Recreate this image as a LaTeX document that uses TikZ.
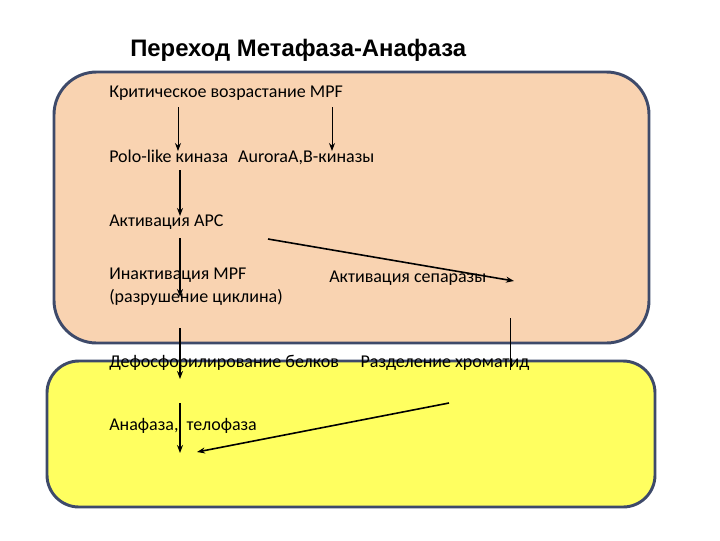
\documentclass[tikz,border=0pt]{standalone}
\usepackage{fontspec}
\setmainfont{Carlito}
\newfontfamily\titlefont{Liberation Sans}
\usetikzlibrary{arrows.meta}
\definecolor{peach}{HTML}{F9D3B1}
\definecolor{lemon}{HTML}{FFFF60}
\definecolor{edgecol}{HTML}{3E4A6A}
\tikzset{
  panel/.style={draw=edgecol, line width=2.2pt},
  lbl/.style={anchor=west, inner sep=0pt, font=\fontsize{13.5}{16}\selectfont},
  thinarr/.style={-{Stealth[length=6pt,width=4.5pt]}, line width=0.6pt},
  thickarr/.style={-{Stealth[length=6pt,width=4.5pt]}, line width=1.6pt},
  midarr/.style={-{Stealth[length=6pt,width=4.5pt]}, line width=1.2pt},
  plainline/.style={line width=0.6pt}
}
\begin{document}
\begin{tikzpicture}[x=0.75pt,y=-0.75pt]
\useasboundingbox (0,0) rectangle (720,540);
\fill[white] (0,0) rectangle (720,540);
% panels
\draw[panel, fill=peach, rounded corners=32pt] (54,72) rectangle (649,343);
\draw[panel, fill=lemon, rounded corners=24pt] (47,361) rectangle (655,507);
% title
\node[anchor=west, inner sep=0pt, font=\titlefont\bfseries\fontsize{17.9}{21}\selectfont] (title) at (130,50) {Переход Метафаза-Анафаза};
% labels
\node[lbl] (mpf) at (109,93) {Критическое возрастание MPF};
\node[lbl] (polo) at (109,157) {Polo-like киназа\hspace{0.55em}AuroraA,B-киназы};
\node[lbl] (apc) at (109,222) {Активация APC};
\node[lbl] (inact) at (109,275) {Инактивация MPF};
\node[lbl] (cycl) at (109,297) {(разрушение циклина)};
\node[lbl] (sep) at (329,278) {Активация сепаразы};
\node[lbl] (dephos) at (109,363) {Дефосфорилирование белков\hspace{1.2em}Разделение хроматид};
\node[lbl] (ana) at (109,426) {Анафаза,\hspace{0.45em}телофаза};
% connector end points
\coordinate (a1s) at (178,107); \coordinate (a1e) at (178,151);
\coordinate (a2s) at (332,107); \coordinate (a2e) at (332,151);
\coordinate (a3s) at (180,170); \coordinate (a3e) at (180,216);
\coordinate (a4s) at (180,238); \coordinate (a4e) at (180,297);
\coordinate (a5s) at (268,239); \coordinate (a5e) at (514,281);
\coordinate (a6s) at (180,328); \coordinate (a6e) at (180,379);
\coordinate (a7s) at (510,318); \coordinate (a7e) at (510,370);
\coordinate (a8s) at (180,403); \coordinate (a8e) at (180,453);
\coordinate (a9s) at (449,403); \coordinate (a9e) at (197,452);
% connectors
\draw[thinarr] (a1s) -- (a1e);
\draw[thinarr] (a2s) -- (a2e);
\draw[thickarr] (a3s) -- (a3e);
\draw[thickarr] (a4s) -- (a4e);
\draw[midarr] (a5s) -- (a5e);
\draw[thickarr] (a6s) -- (a6e);
\draw[plainline] (a7s) -- (a7e);
\draw[thickarr] (a8s) -- (a8e);
\draw[midarr] (a9s) -- (a9e);
\end{tikzpicture}
\end{document}
